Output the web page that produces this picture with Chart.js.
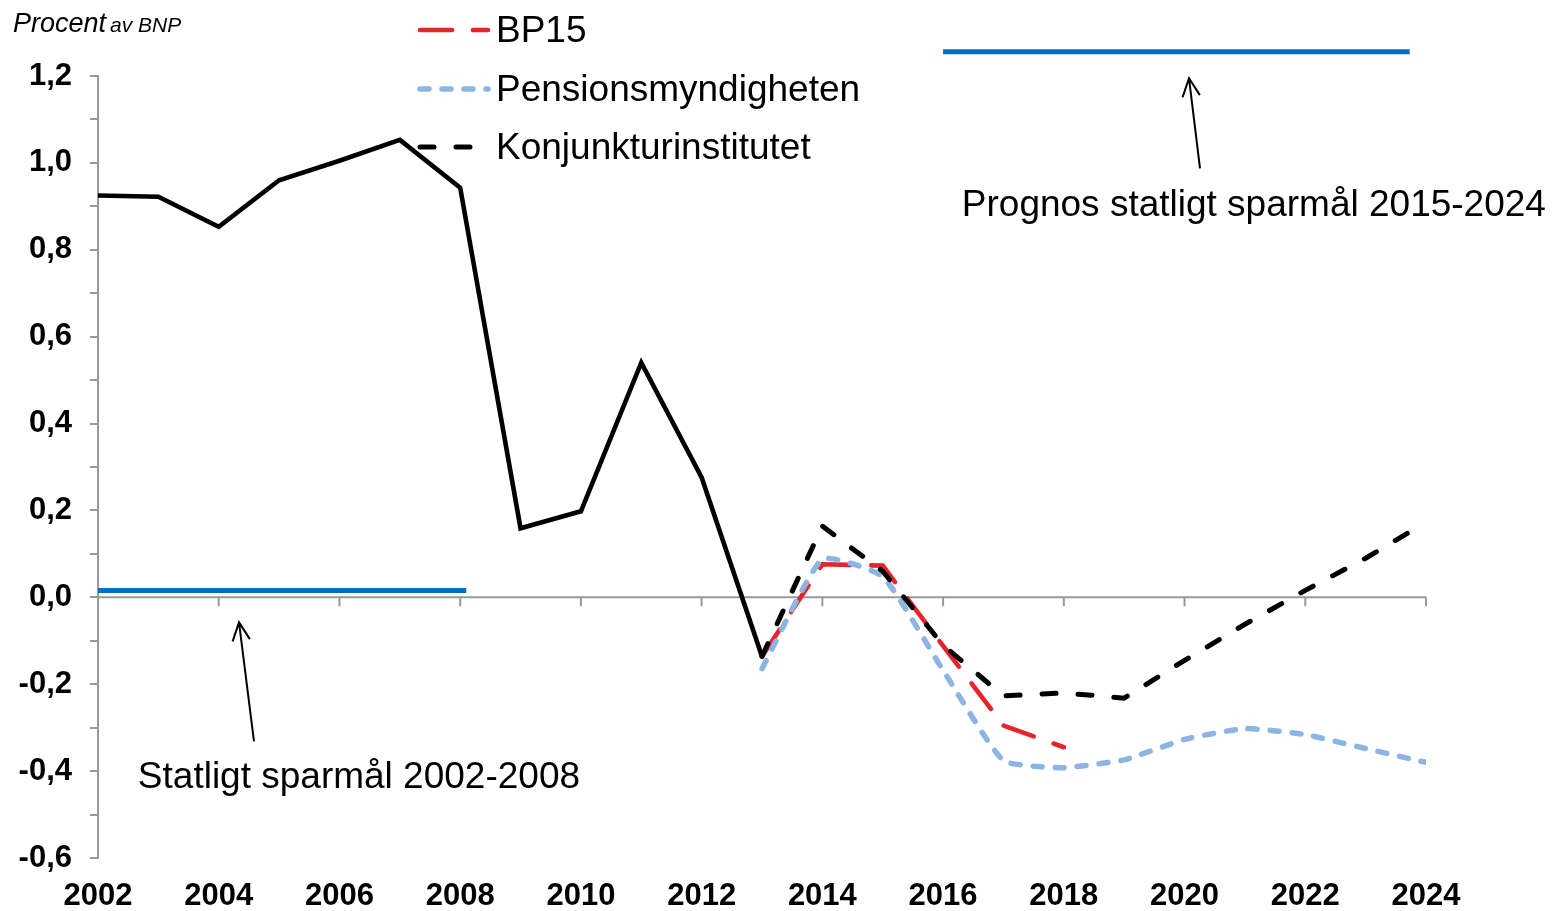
<!DOCTYPE html>
<html lang="sv">
<head>
<meta charset="utf-8">
<title>Statligt sparande</title>
<script src="https://cdn.jsdelivr.net/npm/chart.js@4.4.1/dist/chart.umd.min.js"></script>
<style>
  html, body { margin: 0; padding: 0; background: #fff; }
  canvas { display: block; }
</style>
</head>
<body>
<canvas id="chart" width="1554" height="911"></canvas>
<script>
// === data (procent av BNP) ===
const years = [2002, 2003, 2004, 2005, 2006, 2007, 2008, 2009, 2010, 2011, 2012, 2013,
  2014, 2015, 2016, 2017, 2018, 2019, 2020, 2021, 2022, 2023, 2024];

// utfall 2002-2013
const utfall = [0.925, 0.922, 0.853, 0.960, 1.005, 1.053, 0.943, 0.159, 0.198, 0.540, 0.276, -0.136];
// BP15 2013-2018
const bp15 = [-0.136, 0.076, 0.073, -0.112, -0.295, -0.345];
// Pensionsmyndigheten 2013-2024
const pensionsmyndigheten = [-0.164, 0.088, 0.048, -0.168, -0.376, -0.392, -0.374, -0.327, -0.302, -0.316, -0.348, -0.380];
// Konjunkturinstitutet 2013-2024
const konjunkturinstitutet = [-0.136, 0.164, 0.060, -0.110, -0.227, -0.220, -0.232, -0.145, -0.062, 0.016, 0.090, 0.173];

// sparmål (start/slut år, nivå)
const malGammaltX = [2002, 2008.1];
const malGammaltY = [0.016, 0.016];
const malNyttX = [2016, 2023.73];
const malNyttY = [1.256, 1.256];

const yTicks = { min: -0.6, max: 1.2, step: 0.1 };

const FONT = "'Liberation Sans', Arial, sans-serif";
const GREY = "#999999";

function pts(xs, ys) {
  return xs.map((x, i) => ({ x: x, y: ys[i] }));
}

// === annotations: pilar och texter i dataenheter ===
const pilar = [
  { from: [2004.584, -0.3315], to: [2004.336, -0.0576] },
  { from: [2020.256, 0.9875], to: [2020.074, 1.1947] },
];
const texter = [
  { text: "Statligt sparmål 2002-2008", at: [2002.66, -0.4396] },
  { text: "Prognos statligt sparmål 2015-2024", at: [2016.31, 0.877] },
];

// === legend (egen ritning) ===
const legendItems = [
  { ds: 4, label: "BP15", baseline: 42 },
  { ds: 5, label: "Pensionsmyndigheten", baseline: 101 },
  { ds: 3, label: "Konjunkturinstitutet", baseline: 159 },
];

const axisPlugin = {
  id: "zeroAxis",
  beforeDatasetsDraw(chart) {
    const { ctx, chartArea, scales } = chart;
    const y0 = scales.y.getPixelForValue(0);
    ctx.save();
    ctx.strokeStyle = GREY;
    ctx.lineWidth = 2;
    ctx.beginPath();
    ctx.moveTo(chartArea.left, y0);
    ctx.lineTo(chartArea.right, y0);
    scales.x.ticks.forEach(t => {
      const x = scales.x.getPixelForValue(t.value);
      ctx.moveTo(x, y0);
      ctx.lineTo(x, y0 + 9);
    });
    ctx.stroke();
    ctx.restore();
  },
  afterDraw(chart) {
    const { ctx, scales } = chart;
    ctx.save();

    // rubrik
    ctx.fillStyle = "#000";
    ctx.textBaseline = "alphabetic";
    ctx.font = "italic 27px " + FONT;
    ctx.fillText("Procent", 13, 32);
    ctx.font = "italic 21px " + FONT;
    ctx.fillText("av BNP", 110, 32);

    // legend
    legendItems.forEach(item => {
      const ds = chart.data.datasets[item.ds];
      const ly = item.baseline - 12;
      ctx.save();
      ctx.strokeStyle = ds.borderColor;
      ctx.lineWidth = ds.borderWidth;
      ctx.lineCap = ds.borderCapStyle || "butt";
      ctx.setLineDash(ds.borderDash || []);
      ctx.beginPath();
      ctx.moveTo(420, ly);
      ctx.lineTo(488, ly);
      ctx.stroke();
      ctx.restore();
      ctx.font = "37px " + FONT;
      ctx.fillStyle = "#000";
      ctx.fillText(item.label, 496, item.baseline);
    });

    // pilar
    ctx.strokeStyle = "#000";
    ctx.lineWidth = 2;
    pilar.forEach(p => {
      const x1 = scales.x.getPixelForValue(p.from[0]);
      const y1 = scales.y.getPixelForValue(p.from[1]);
      const x2 = scales.x.getPixelForValue(p.to[0]);
      const y2 = scales.y.getPixelForValue(p.to[1]);
      const a = Math.atan2(y2 - y1, x2 - x1);
      const h = 20, spread = 0.45;
      ctx.beginPath();
      ctx.moveTo(x1, y1);
      ctx.lineTo(x2, y2);
      ctx.moveTo(x2 - h * Math.cos(a - spread), y2 - h * Math.sin(a - spread));
      ctx.lineTo(x2, y2);
      ctx.lineTo(x2 - h * Math.cos(a + spread), y2 - h * Math.sin(a + spread));
      ctx.stroke();
    });

    // texter
    ctx.font = "37px " + FONT;
    ctx.fillStyle = "#000";
    texter.forEach(t => {
      ctx.fillText(t.text, scales.x.getPixelForValue(t.at[0]), scales.y.getPixelForValue(t.at[1]));
    });
    ctx.restore();
  }
};

new Chart(document.getElementById("chart"), {
  type: "line",
  data: {
    datasets: [
      {
        label: "Sparmål 2002-2008",
        data: pts(malGammaltX, malGammaltY),
        borderColor: "#0070C0",
        borderWidth: 5,
        pointRadius: 0,
        clip: false,
        order: 6,
      },
      {
        label: "Sparmål 2015-2024",
        data: pts(malNyttX, malNyttY),
        borderColor: "#0070C0",
        borderWidth: 5,
        pointRadius: 0,
        clip: false,
        order: 6,
      },
      {
        label: "Utfall",
        data: pts(years.slice(0, 12), utfall),
        borderColor: "#000000",
        borderWidth: 4.6,
        pointRadius: 0,
        order: 5,
      },
      {
        label: "Konjunkturinstitutet",
        data: pts(years.slice(11), konjunkturinstitutet),
        borderColor: "#000000",
        borderWidth: 5,
        borderDash: [14, 22],
        borderCapStyle: "round",
        pointRadius: 0,
        order: 1,
      },
      {
        label: "BP15",
        data: pts(years.slice(11, 17), bp15),
        borderColor: "#E8242B",
        borderWidth: 4.6,
        borderDash: [32, 21],
        borderCapStyle: "round",
        pointRadius: 0,
        order: 3,
      },
      {
        label: "Pensionsmyndigheten",
        data: pts(years.slice(11), pensionsmyndigheten),
        borderColor: "#8DB4E2",
        borderWidth: 5.5,
        borderDash: [9, 13],
        borderCapStyle: "round",
        tension: 0.15,
        pointRadius: 0,
        order: 2,
      },
    ],
  },
  options: {
    responsive: false,
    animation: false,
    layout: { padding: { top: 76, right: 128, left: 0, bottom: 0 } },
    plugins: {
      legend: { display: false },
      tooltip: { enabled: false },
    },
    scales: {
      x: {
        type: "linear",
        min: years[0],
        max: years[years.length - 1],
        grid: { display: false, drawTicks: false },
        border: { display: false },
        afterFit: s => { s.height = 53; },
        ticks: {
          stepSize: 2,
          padding: 20,
          color: "#000",
          font: { family: FONT, size: 31, weight: "bold" },
          callback: v => String(v),
        },
      },
      y: {
        min: yTicks.min,
        max: yTicks.max,
        afterFit: s => { s.width = 98; },
        border: { color: GREY, width: 2 },
        grid: {
          color: "transparent",
          tickColor: GREY,
          tickLength: 8,
          lineWidth: 2,
        },
        ticks: {
          stepSize: yTicks.step,
          padding: 18,
          color: "#000",
          font: { family: FONT, size: 31, weight: "bold" },
          callback: v => {
            const n = Math.round(v * 10);
            if (n % 2 !== 0) return "";
            return (n / 10).toFixed(1).replace(".", ",").replace("-0,0", "0,0");
          },
        },
      },
    },
  },
  plugins: [axisPlugin],
});
</script>
</body>
</html>
